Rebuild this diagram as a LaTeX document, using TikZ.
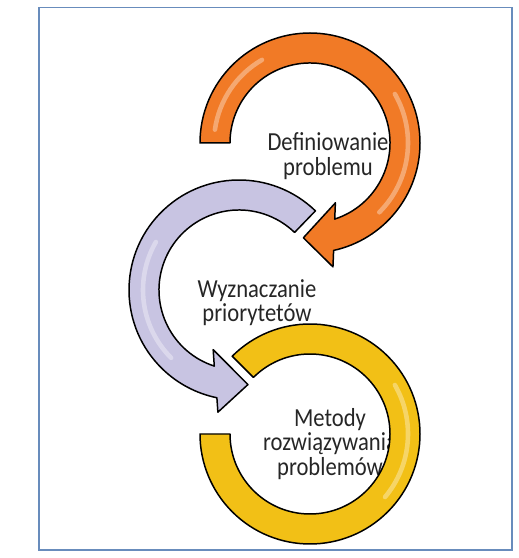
\documentclass[tikz,border=0pt]{standalone}
\usepackage{fontspec}
\setmainfont{Carlito}[FakeStretch=0.87]
\usepackage{tikz}

\definecolor{framecol}{RGB}{104,140,188}
\definecolor{defcol}{RGB}{241,122,38}
\definecolor{wyzcol}{RGB}{200,196,226}
\definecolor{metcol}{RGB}{242,192,22}

\tikzset{
  ring/.style={draw=black, line width=0.85pt, line join=round},
  gloss/.style={white, line width=2.6pt, line cap=round, opacity=0.35},
  cycletext/.style={align=center, inner sep=0pt, text=black!85,
    font=\fontsize{14.8}{13.8}\selectfont},
}

\begin{document}
\begin{tikzpicture}[x=0.02cm,y=0.02cm]
\useasboundingbox (0,0) rectangle (519,558);
\draw[framecol, line width=0.8pt] (39,8) rectangle (512,550.5);

\coordinate (def) at (310,415);
\coordinate (wyz) at (239,268);
\coordinate (met) at (310,124);

\node (deftext) [cycletext] at ([shift={(18,-13)}]def) {Definiowanie\\problemu};
\node (wyztext) [cycletext] at ([shift={(18,-13)}]wyz) {Wyznaczanie\\priorytetów};
\node (mettext) [cycletext] at ([shift={(20,-10)}]met) {Metody\\rozwiązywania\\problemów};

% orange arrow
\begin{scope}[shift={(def)}]
\path[ring, fill=defcol] (180:80) -- (180:110)
  arc[start angle=180, end angle=-77.6, radius=110]
  -- (-79.5:126) -- (-94:95) -- (-67:65) -- (-72:80)
  arc[start angle=-72, end angle=180, radius=80] -- cycle;
\draw[gloss] (172:96) arc[start angle=172, end angle=120, radius=96];
\draw[gloss] (30:98) arc[start angle=30, end angle=-45, radius=98];
\end{scope}

% lavender arrow
\begin{scope}[shift={(wyz)}]
\path[ring, fill=wyzcol] (46:80) -- (46:110)
  arc[start angle=46, end angle=258.4, radius=110]
  -- (260.2:124) -- (275.4:95) -- (246.6:65) -- (252:80)
  arc[start angle=252, end angle=46, radius=80] -- cycle;
\draw[gloss] (150:96) arc[start angle=150, end angle=225, radius=96];
\end{scope}

% yellow ring
\begin{scope}[shift={(met)}]
\path[ring, fill=metcol] (135:80) -- (135:110)
  arc[start angle=135, end angle=-180, radius=110]
  -- (-180:80)
  arc[start angle=-180, end angle=135, radius=80] -- cycle;
\draw[gloss] (30:98) arc[start angle=30, end angle=-40, radius=98];
\end{scope}
\end{tikzpicture}
\end{document}
